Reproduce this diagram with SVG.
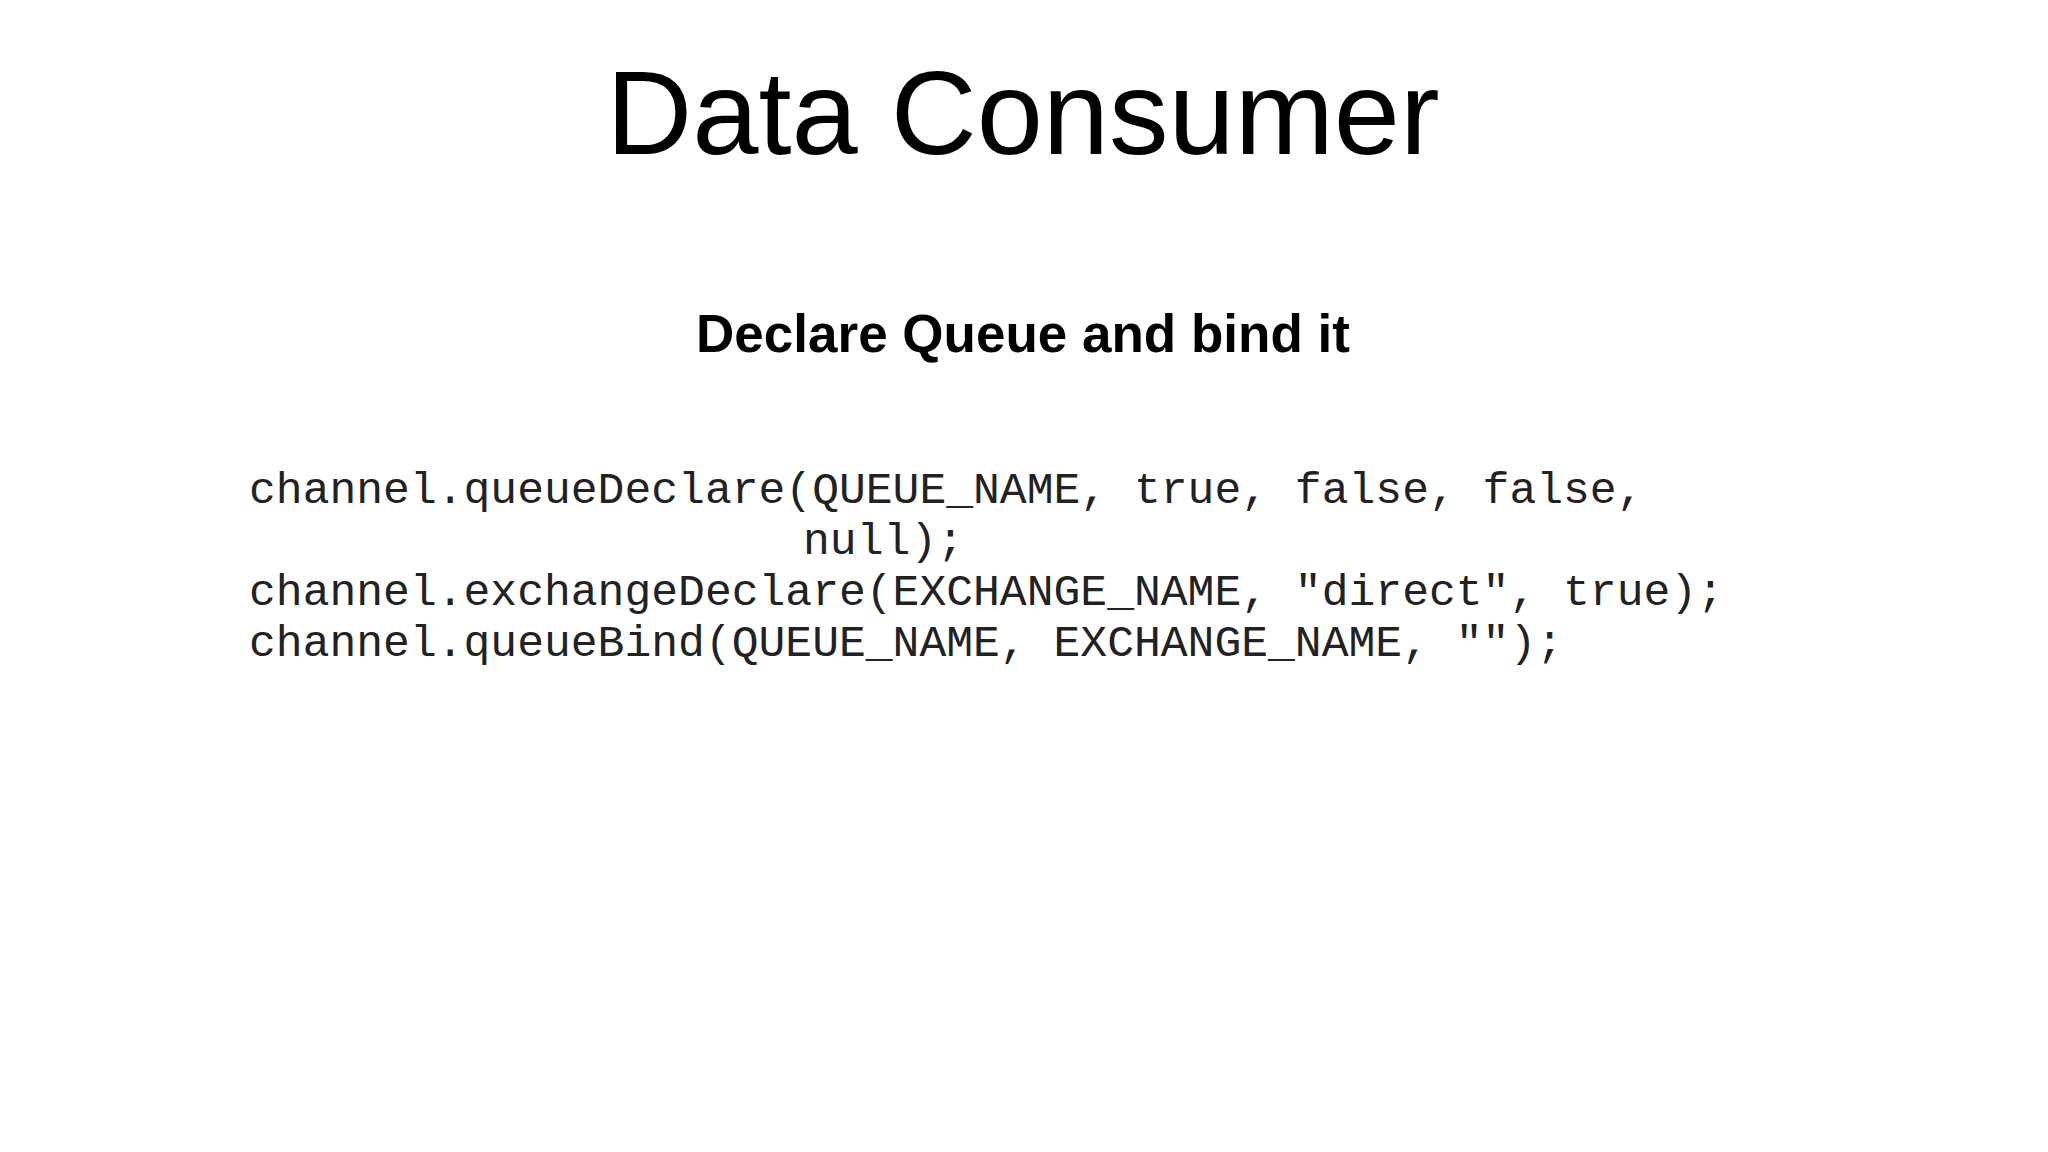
<svg xmlns="http://www.w3.org/2000/svg" width="2048" height="1152" viewBox="0 0 2048 1152">
<style>
.t{font-family:"Liberation Sans",Arial,sans-serif;fill:#000;text-anchor:middle}
.c{font-family:"Liberation Mono","Courier New",monospace;font-size:44.7px;fill:#222}
</style>
<rect width="2048" height="1152" fill="#fff"/>
<g id="title"><text class="t" x="1023" y="154" font-size="119">Data Consumer</text></g>
<g id="subtitle"><text class="t" x="1023" y="352" font-size="53" font-weight="bold">Declare Queue and bind it</text></g>
<g id="code">
<text class="c" x="249" y="503">channel.queueDeclare(QUEUE_NAME, true, false, false,</text>
<text class="c" x="803" y="554">null);</text>
<text class="c" x="249" y="605">channel.exchangeDeclare(EXCHANGE_NAME, "direct", true);</text>
<text class="c" x="249" y="656">channel.queueBind(QUEUE_NAME, EXCHANGE_NAME, "");</text>
</g>
</svg>
